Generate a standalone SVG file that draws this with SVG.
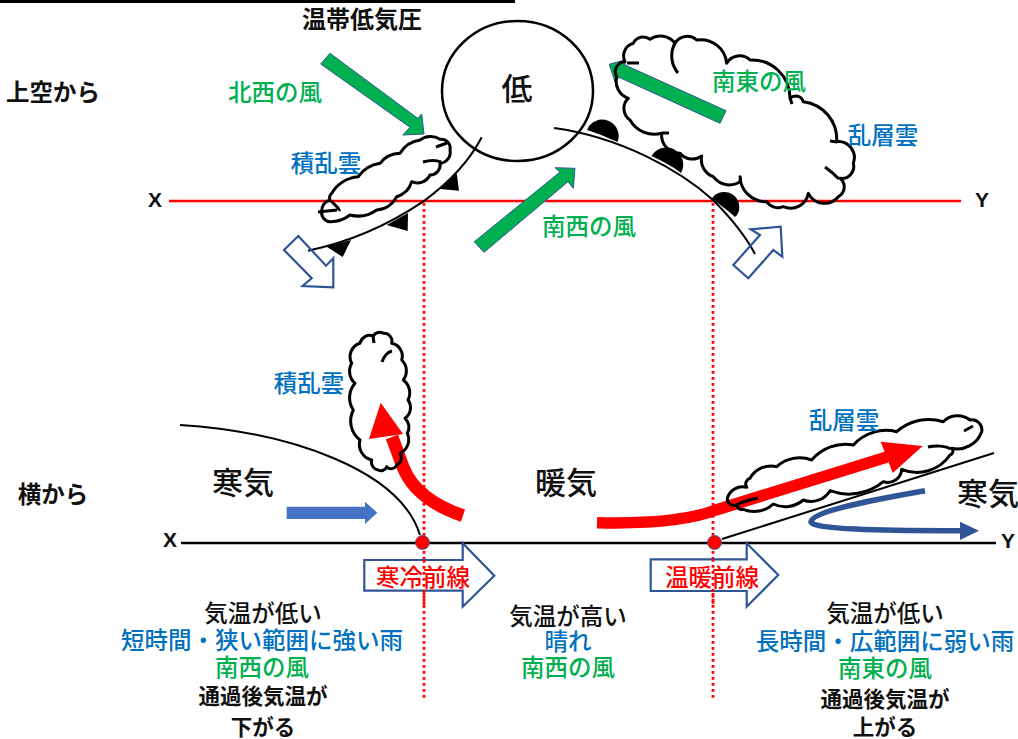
<svg xmlns="http://www.w3.org/2000/svg" width="1018" height="739" viewBox="0 0 1018 739">
<style>
text{font-family:"Noto Sans CJK JP","Liberation Sans",sans-serif;text-anchor:middle;font-size:23.500px;font-weight:500}
.k{fill:#111}
.b{font-weight:700}
.g{fill:#00b050}
.c{fill:#0070c0}
.r{fill:#f00;font-size:23.500px}
.big{font-size:31px}
.s{font-size:21.500px}
.lat{font-family:"Liberation Sans",sans-serif;font-weight:700;font-size:21px;fill:#111}
.ln{fill:none;stroke:#000;stroke-width:2}
.cl{fill:none;stroke:#000;stroke-width:3;stroke-linejoin:round}
.cf{fill:#fff;stroke:none}
.ga{fill:#00b050;stroke:#2f5597;stroke-width:1}
.ho{fill:none;stroke:#2f5597;stroke-width:2.200}
.hw{fill:#fff;stroke:#2f5597;stroke-width:2.200}
.tri{fill:#000}
.dot{fill:none;stroke:#f00;stroke-width:2.800;stroke-dasharray:2.800 3.200}
</style>
<defs>
<path id="c1" d="M321.700,211.700A11 11 0 0 1 330,200A6 6 0 0 1 331.700,193.300A34 34 0 0 1 358.300,176.700A32 32 0 0 1 380,163.300A26 26 0 0 1 400,153.300A28 28 0 0 1 420,140A18 18 0 0 1 440,139.300A9 9 0 0 1 450,150A11 11 0 0 1 440,163.300A10 10 0 0 1 430,175A14 14 0 0 1 411.700,181.700A22 22 0 0 1 396.700,196.700A24 24 0 0 1 376.700,210A32 32 0 0 1 350,215A32 32 0 0 1 330,221.700A9 9 0 0 1 321.700,211.700Z"/>
<path id="c2" d="M625,61.700A13 13 0 0 1 633.300,43.300A11 11 0 0 1 650,39.300A18 18 0 0 1 675,43.300A14 14 0 0 1 696.700,40A26 26 0 0 1 726.700,63.300A15 15 0 0 1 750,60A38 38 0 0 1 790,98.300A8 8 0 0 1 803.300,101.700A38 38 0 0 1 836.700,141.700A16 16 0 0 1 853.300,163.300A12 12 0 0 1 840,178.300A11 11 0 0 1 838.300,196.700A18 18 0 0 1 808.300,193.300A18 18 0 0 1 783.300,206.700A14 14 0 0 1 766.700,201.700A26 26 0 0 1 740,176.700A5 5 0 0 1 738,183A20 20 0 0 1 713.300,176.700A18 18 0 0 1 701.700,156A16 16 0 0 1 680,153.300A18 18 0 0 1 661.700,133.300A28 28 0 0 1 630,120A14 14 0 0 1 628.300,98.300A18 18 0 0 1 616.700,76.700A10 10 0 0 1 625,61.700Z"/>
<path id="c3" d="M360,343.300A10 10 0 0 1 373.300,336A7 7 0 0 1 383.300,333.300A8 8 0 0 1 391.700,343.300A13 13 0 0 1 401.700,360A15 15 0 0 1 403.300,380A16 16 0 0 1 408,400A13 13 0 0 1 405,418.300A12 12 0 0 1 407.300,433.300A15 15 0 0 1 400,453.300A8 8 0 0 1 396.700,465A6 6 0 0 1 386.700,466.700A6 6 0 0 1 378.300,470A8 8 0 0 1 371.700,460A16 16 0 0 1 360,440A24 24 0 0 1 353.300,410A22 22 0 0 1 355,383.300A16 16 0 0 1 351.700,363.300A14 14 0 0 1 360,343.300Z"/>
<path id="c4" d="M727.300,498.300A16 16 0 0 1 746.700,487.300A6 6 0 0 1 750,478.300A24 24 0 0 1 776.700,466.700A34 34 0 0 1 811.700,460A44 44 0 0 1 853.300,445A44 44 0 0 1 896.700,431.700A48 48 0 0 1 943.300,421.700A20 20 0 0 1 970,420A10 10 0 0 1 981.700,431.700A26 26 0 0 1 951.700,448.300A4 4 0 0 1 950,455A40 40 0 0 1 901.700,469.300A14 14 0 0 1 883.300,481.700A54 54 0 0 1 830,490.700A22 22 0 0 1 803.300,500A28 28 0 0 1 773.300,504A28 28 0 0 1 743.300,509.300A5 5 0 0 1 736.700,505A7 7 0 0 1 727.300,498.300Z"/>
</defs>
<rect x="0" y="0" width="515" height="3" fill="#000"/>
<g id="cloud-fills">
<use href="#c1" class="cf"/><use href="#c2" class="cf"/><use href="#c3" class="cf"/><use href="#c4" class="cf"/>
</g>
<g id="connectors">
<path d="M169,201H961" fill="none" stroke="#f00" stroke-width="2.500"/>
<path class="dot" d="M424,203V700M713,203V700"/>
<path d="M181,543H996" fill="none" stroke="#000" stroke-width="2.500"/>
<path class="ln" d="M180,425C290,432 400,470 420,535"/>
<path class="ln" d="M722,539L994,453"/>
<path class="ln" d="M481.700,137.300C470,160 450,182 423,201.700C390,224 350,242 308,250.700"/>
<path class="ln" d="M554,128C620,137 680,170 713,200C730,217 745,235 755,254"/>
</g>
<g id="cold-front-marks">
<path class="tri" d="M456.700,173L459,190.700L440,189ZM408,213L407.700,231L386.700,225ZM351,240L342.700,257L326.700,246.700Z"/>
</g>
<g id="warm-front-marks">
<path class="tri" d="M587,130A15.500 15.500 0 0 1 617.500,142C606,137 597,133 587,130ZM651.500,156A15 15 0 0 1 681,173C672,166 662,161 651.500,156ZM711.500,199A14 14 0 0 1 737,215L735,217C728,211 720,204 711.500,199Z"/>
</g>
<g id="low"><ellipse cx="517.500" cy="91" rx="75.500" ry="70" fill="none" stroke="#000" stroke-width="2.500"/><text class="k" x="517" y="100" style="font-size:31px">低</text></g>
<g id="wind-arrows">
<path class="ga" d="M330,53.300L417.700,118.300L421.700,114L424,134L402.700,135L410,127.300L320.700,64Z"/>
<path class="ga" d="M474.300,241.700L560,172L555,167.700L575,168.300L573.300,188.300L568,181.700L484,252.300Z"/>
<path class="ga" d="M726,110.700L625,65L625,60L609.300,64.300L615,81.700L619,77.300L720,123.300Z"/>
</g>
<g id="front-motion">
<path class="ho" d="M298.300,236L326,265.700L333.300,258.300L333.300,287.300L302.700,286L311.700,278.300L284,250Z"/>
<path class="ho" d="M733.300,265L760,235L750.700,229.300L780.700,226.700L782.300,256.700L773.300,250L748.300,278.300Z"/>
</g>
<g id="flow-arrows">
<path d="M463,515.700C432,505 412,490 403,467L392,437" fill="none" stroke="#f00" stroke-width="13"/>
<path d="M380.700,402.700L369,439L403,434Z" fill="#f00"/>
<path d="M597,522.700C650,524 690,520 716,510L887,457" fill="none" stroke="#f00" stroke-width="11.500"/>
<path d="M922.700,446L880.700,441.700L892.700,473Z" fill="#f00"/>
<path d="M286.700,506.700H365V501.700L377.300,512.700L365,524V519H286.700Z" fill="#4472c4"/>
<path d="M925,490.700C860,502 812,512 811,522C811,529 880,531 962,530.700" fill="none" stroke="#2f5597" stroke-width="5.500"/>
<path d="M960,521.700L979,530.700L960,540Z" fill="#2f5597"/>
</g>
<g id="cloud-upper-left"><use href="#c1" class="cl"/><path class="cl" d="M423,162C430,160 436,160 441,162M436,147L447,143M331,201C336,206 340,209 339,211M318,212L337,210"/></g>
<g id="cloud-upper-right"><use href="#c2" class="cl"/><path class="cl" d="M627,63L639,63M675,43C669,54 672,66 678,73M790,98L792,104M830,141L837,142M825,167C832,172 836,176 839,179M662,133L669,133"/></g>
<g id="cloud-lower-left"><use href="#c3" class="cl"/><path class="cl" d="M373,336L374,343M382,362C384,356 388,352 392,351"/></g>
<g id="cloud-lower-right"><use href="#c4" class="cl"/><path class="cl" d="M737,505C745,500 755,499 758,498M928,447C936,445 946,446 951,449M964,431L973,426"/></g>
<g id="coldfront-arrow"><path class="hw" d="M364.300,560H462.700V543.300L494.300,575.700L462.700,606.700V590.700H364.300Z"/></g>
<g id="warmfront-arrow"><path class="hw" d="M650.700,559.300H746.700V543.300L778.300,575L746.700,606.700V591H650.700Z"/></g>
<path class="dot" d="M424,560V606M713,559V606"/>
<circle cx="422.500" cy="542.500" r="7" fill="#f00" stroke="#2f5597" stroke-width="0.800"/>
<circle cx="714.500" cy="542.500" r="7" fill="#f00" stroke="#2f5597" stroke-width="0.800"/>
<g id="labels">
<text class="k b" x="362" y="28" style="font-size:24px">温帯低気圧</text>
<text class="k b" x="53" y="101">上空から</text>
<text class="g" x="275" y="101">北西の風</text>
<text class="c" x="326" y="172">積乱雲</text>
<text class="c" x="883" y="144">乱層雲</text>
<text class="g" x="759" y="90">南東の風</text>
<text class="g" x="589" y="235">南西の風</text>
<text class="lat" x="155" y="207">X</text>
<text class="lat" x="982" y="207">Y</text>
<text class="c" x="309" y="392">積乱雲</text>
<text class="c" x="844" y="429">乱層雲</text>
<text class="k big" x="243" y="494">寒気</text>
<text class="k big" x="566" y="494">暖気</text>
<text class="k big" x="988" y="505">寒気</text>
<text class="k b" x="53" y="503">横から</text>
<text class="lat" x="170" y="547">X</text>
<text class="lat" x="1008" y="548">Y</text>
<text class="r" x="423" y="586">寒冷前線</text>
<text class="r" x="712" y="586">温暖前線</text>
<text class="k" x="263" y="622">気温が低い</text>
<text class="c" x="262" y="649">短時間・狭い範囲に強い雨</text>
<text class="g" x="262" y="676">南西の風</text>
<text class="k b s" x="263" y="704">通過後気温が</text>
<text class="k b s" x="263" y="735">下がる</text>
<text class="k" x="568" y="625">気温が高い</text>
<text class="c" x="568" y="650">晴れ</text>
<text class="g" x="568" y="676">南西の風</text>
<text class="k" x="885" y="622">気温が低い</text>
<text class="c" x="885" y="650">長時間・広範囲に弱い雨</text>
<text class="g" x="885" y="677">南東の風</text>
<text class="k b s" x="885" y="707">通過後気温が</text>
<text class="k b s" x="885" y="735">上がる</text>
</g>
</svg>
